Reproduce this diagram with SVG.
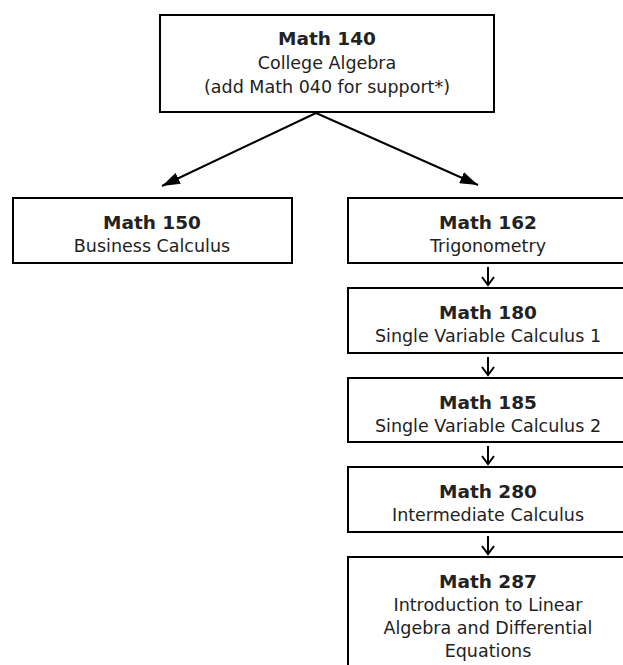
<svg xmlns="http://www.w3.org/2000/svg" width="623" height="665" viewBox="0 0 623 665">
<style>
.box{fill:#fff;stroke:#000;stroke-width:2}
.t{font-family:"DejaVu Sans",sans-serif;font-weight:bold;font-size:18.5px;fill:#222;text-anchor:middle}
.s{font-family:"DejaVu Sans",sans-serif;font-size:17.5px;fill:#222;text-anchor:middle}
.c{stroke:#000;stroke-width:2;fill:none}
</style>
<defs>
<marker id="tri" markerUnits="userSpaceOnUse" markerWidth="18" markerHeight="12" refX="18" refY="6" orient="auto">
<path d="M0,0 L18,6 L0,12 z" fill="#000"/>
</marker>
<marker id="chev" markerUnits="userSpaceOnUse" markerWidth="16" markerHeight="16" refX="9" refY="8" orient="auto" overflow="visible">
<path d="M1,2 L9,8 L1,14" fill="none" stroke="#000" stroke-width="2"/>
</marker>
</defs>
<rect width="623" height="665" fill="#fff"/>
<g id="connectors">
<line class="c" x1="316" y1="113" x2="162" y2="186" marker-end="url(#tri)"/>
<line class="c" x1="316" y1="113" x2="478" y2="185" marker-end="url(#tri)"/>
<line class="c" x1="488" y1="267" x2="488" y2="285" marker-end="url(#chev)"/>
<line class="c" x1="488" y1="357" x2="488" y2="375" marker-end="url(#chev)"/>
<line class="c" x1="488" y1="446" x2="488" y2="464" marker-end="url(#chev)"/>
<line class="c" x1="488" y1="536" x2="488" y2="554" marker-end="url(#chev)"/>
</g>
<g id="math140">
<rect class="box" x="160" y="15" width="334" height="97"/>
<text class="t" x="327" y="45">Math 140</text>
<text class="s" x="327" y="69">College Algebra</text>
<text class="s" x="327" y="93">(add Math 040 for support*)</text>
</g>
<g id="math150">
<rect class="box" x="13" y="198" width="279" height="65"/>
<text class="t" x="152" y="229">Math 150</text>
<text class="s" x="152" y="252">Business Calculus</text>
</g>
<g id="math162">
<rect class="box" x="348" y="198" width="282" height="65"/>
<text class="t" x="488" y="229">Math 162</text>
<text class="s" x="488" y="252">Trigonometry</text>
</g>
<g id="math180">
<rect class="box" x="348" y="288" width="282" height="65"/>
<text class="t" x="488" y="319">Math 180</text>
<text class="s" x="488" y="342">Single Variable Calculus 1</text>
</g>
<g id="math185">
<rect class="box" x="348" y="378" width="282" height="64"/>
<text class="t" x="488" y="409">Math 185</text>
<text class="s" x="488" y="432">Single Variable Calculus 2</text>
</g>
<g id="math280">
<rect class="box" x="348" y="467" width="282" height="65"/>
<text class="t" x="488" y="498">Math 280</text>
<text class="s" x="488" y="521">Intermediate Calculus</text>
</g>
<g id="math287">
<rect class="box" x="348" y="557" width="282" height="120"/>
<text class="t" x="488" y="588">Math 287</text>
<text class="s" x="488" y="611">Introduction to Linear</text>
<text class="s" x="488" y="634">Algebra and Differential</text>
<text class="s" x="488" y="657">Equations</text>
</g>
</svg>
